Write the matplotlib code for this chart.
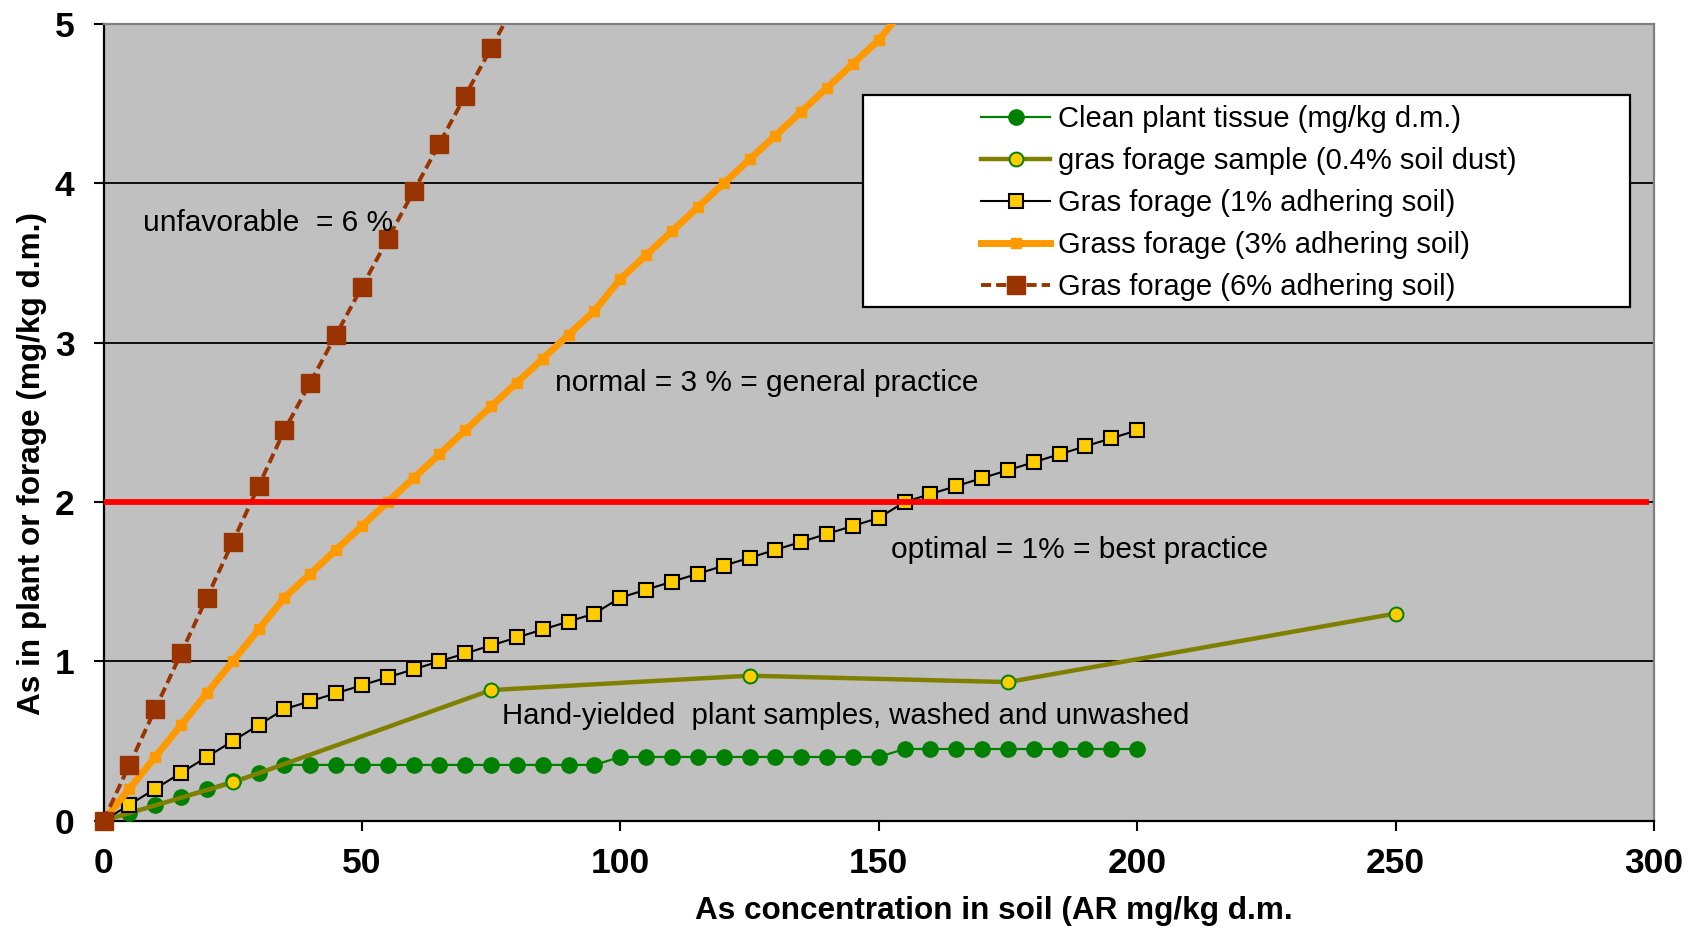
import matplotlib
matplotlib.use("Agg")
import matplotlib.pyplot as plt
from matplotlib.patches import Rectangle

plt.rcParams['font.family'] = ['Liberation Sans', 'DejaVu Sans']

# ---------------- data ----------------
soil_x = [0, 5, 10, 15, 20, 25, 30, 35, 40, 45, 50, 55, 60, 65, 70, 75, 80, 85, 90, 95,
          100, 105, 110, 115, 120, 125, 130, 135, 140, 145, 150, 155, 160, 165, 170, 175,
          180, 185, 190, 195, 200]

clean_tissue = [0, 0.05, 0.1, 0.15, 0.2, 0.25, 0.3,
                0.35, 0.35, 0.35, 0.35, 0.35, 0.35, 0.35, 0.35, 0.35, 0.35, 0.35, 0.35, 0.35,
                0.4, 0.4, 0.4, 0.4, 0.4, 0.4, 0.4, 0.4, 0.4, 0.4, 0.4,
                0.45, 0.45, 0.45, 0.45, 0.45, 0.45, 0.45, 0.45, 0.45, 0.45]

sample_x = [0, 25, 75, 125, 175, 250]
sample_dust = [0, 0.24, 0.82, 0.91, 0.87, 1.3]

forage_1pct = [0, 0.1, 0.2, 0.3, 0.4, 0.5, 0.6,
               0.7, 0.75, 0.8, 0.85, 0.9, 0.95, 1.0, 1.05, 1.1, 1.15, 1.2, 1.25, 1.3,
               1.4, 1.45, 1.5, 1.55, 1.6, 1.65, 1.7, 1.75, 1.8, 1.85, 1.9,
               2.0, 2.05, 2.1, 2.15, 2.2, 2.25, 2.3, 2.35, 2.4, 2.45]

forage_3pct = [0, 0.2, 0.4, 0.6, 0.8, 1.0, 1.2,
               1.4, 1.55, 1.7, 1.85, 2.0, 2.15, 2.3, 2.45, 2.6, 2.75, 2.9, 3.05, 3.2,
               3.4, 3.55, 3.7, 3.85, 4.0, 4.15, 4.3, 4.45, 4.6, 4.75, 4.9,
               5.1, 5.25, 5.4, 5.55, 5.7, 5.85, 6.0, 6.15, 6.3, 6.45]

forage_6pct = [0, 0.35, 0.7, 1.05, 1.4, 1.75, 2.1,
               2.45, 2.75, 3.05, 3.35, 3.65, 3.95, 4.25, 4.55, 4.85, 5.15, 5.45, 5.75, 6.05,
               6.4, 6.7, 7.0, 7.3, 7.6, 7.9, 8.2, 8.5, 8.8, 9.1, 9.4,
               9.75, 10.05, 10.35, 10.65, 10.95, 11.25, 11.55, 11.85, 12.15, 12.45]

limit_x = [0, 299]
limit_y = [2, 2]

x_ticks = [0, 50, 100, 150, 200, 250, 300]
y_ticks = [0, 1, 2, 3, 4, 5]

series_labels = ["Clean plant tissue (mg/kg d.m.)",
                 "gras forage sample (0.4% soil dust)",
                 "Gras forage (1% adhering soil)",
                 "Grass forage (3% adhering soil)",
                 "Gras forage (6% adhering soil)"]

notes = ["unfavorable  = 6 %",
         "normal = 3 % = general practice",
         "optimal = 1% = best practice",
         "Hand-yielded  plant samples, washed and unwashed"]
note_x = [7.6, 87.3, 152.3, 77.1]
note_y = [3.75, 2.75, 1.70, 0.66]

# ---------------- figure ----------------
fig = plt.figure(figsize=(17, 9.31), dpi=100)
ax = fig.add_axes([103.5 / 1700, (931 - 820.7) / 931, 1550.5 / 1700, 796.7 / 931])
ax.set_facecolor('#C0C0C0')

h1, = ax.plot(soil_x, clean_tissue, color='#008000', lw=1.6, marker='o', ms=11,
              mfc='#008000', mec='#008000', label=series_labels[0], zorder=3)
h2, = ax.plot(sample_x, sample_dust, color='#808000', lw=3.2, marker='o', ms=10,
              mfc='#FFCC00', mec='#008000', mew=1.4, label=series_labels[1], zorder=3.1)
h3, = ax.plot(soil_x, forage_1pct, color='black', lw=1.5, marker='s', ms=10.3,
              mfc='#FFCC00', mec='black', mew=1.5, label=series_labels[2], zorder=3.2)
h4, = ax.plot(soil_x, forage_3pct, color='#FF9900', lw=5, marker='s', ms=7.5,
              mfc='#FF9900', mec='#FF9900', label=series_labels[3], zorder=3.3)
h5, = ax.plot(soil_x, forage_6pct, color='#993300', lw=2.8, ls=(0, (2.6, 1.3)), marker='s',
              ms=13, mfc='#993300', mec='#993300', label=series_labels[4], zorder=3.4)
ax.plot(limit_x, limit_y, color='#FF0000', lw=4.2, zorder=3.5, solid_capstyle='butt')

# clip only at the top/right so markers at the origin are fully visible
clip_rect = Rectangle((-0.03, -0.05), 1.03, 1.05, transform=ax.transAxes,
                      facecolor='none', edgecolor='none')
for h in [h1, h2, h3, h4, h5]:
    h.set_clip_path(clip_rect)

ax.set_xlim(0, 300)
ax.set_ylim(0, 5)
ax.set_xticks(x_ticks)
ax.set_yticks(y_ticks)
ax.tick_params(axis='both', direction='out', length=7, width=1.5, labelsize=25.5, color='black')
ax.tick_params(axis='x', pad=12)
ax.tick_params(axis='y', pad=14)
for lab in ax.get_xticklabels() + ax.get_yticklabels():
    lab.set_fontweight('bold')

ax.set_axisbelow(True)
ax.yaxis.grid(True, color='black', lw=1.3)
ax.xaxis.grid(False)

for s in ['left', 'bottom']:
    ax.spines[s].set_color('black')
    ax.spines[s].set_linewidth(1.6)
for s in ['top', 'right']:
    ax.spines[s].set_color('#808080')
    ax.spines[s].set_linewidth(1.6)

ax.set_xlabel("As concentration in soil (AR mg/kg d.m.", fontsize=22.7, fontweight='bold', va='center')
ax.set_ylabel("As in plant or forage (mg/kg d.m.)", fontsize=22.7, fontweight='bold', va='center')
ax.xaxis.set_label_coords(0.574, -0.113)
ax.yaxis.set_label_coords(-0.0458, 0.448)

note_sizes = [21.5, 21.5, 21.5, 21.2]
for t, x, y, fs in zip(notes, note_x, note_y, note_sizes):
    ax.text(x, y, t, fontsize=fs, ha='left', va='center', color='black', zorder=4)

# legend box (Excel-style, entries centred in a wider frame)
box = Rectangle((0.4898, 0.645), 0.4947, 0.266, transform=ax.transAxes,
                facecolor='white', edgecolor='black', lw=1.6, zorder=4.5)
ax.add_patch(box)
leg = ax.legend(handles=[h1, h2, h3, h4, h5], loc='upper left',
                bbox_to_anchor=(0.566, 0.898), frameon=False, fontsize=21,
                borderpad=0, borderaxespad=0, handlelength=2.37, handletextpad=0.27,
                labelspacing=0.48, numpoints=1)
leg.set_zorder(6)

fig.savefig("out.png", dpi=100)
